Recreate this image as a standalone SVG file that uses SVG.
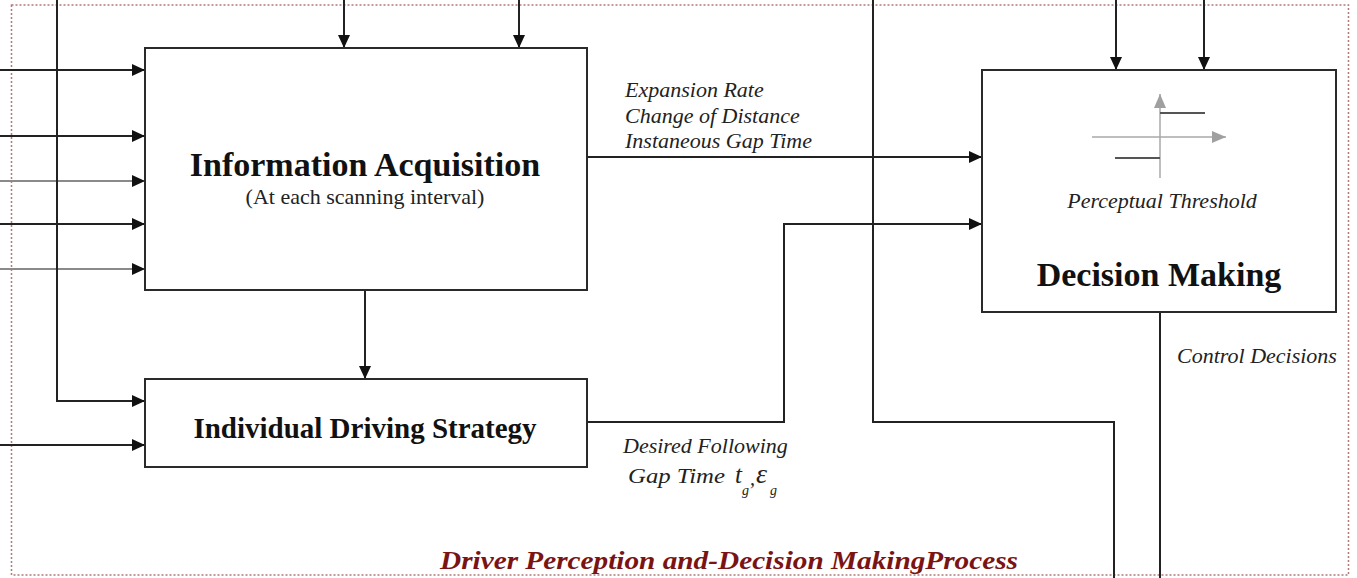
<svg xmlns="http://www.w3.org/2000/svg" width="1357" height="578" viewBox="0 0 1357 578">
<style>
.box{fill:#fff;stroke:#2a2a2a;stroke-width:2}
.ln{fill:none;stroke:#222;stroke-width:2}
.lg{fill:none;stroke:#8a8a8a;stroke-width:2}
.title{font-family:"Liberation Serif",serif;font-weight:bold;fill:#111}
.it{font-family:"Liberation Serif",serif;font-style:italic;fill:#222}
.rg{font-family:"Liberation Serif",serif;fill:#222}
</style>
<defs>
<marker id="ah" markerUnits="userSpaceOnUse" markerWidth="13" markerHeight="12" refX="13" refY="6" orient="auto">
<path d="M0,0 L13,6 L0,12 z" fill="#111"/>
</marker>
<marker id="ag" markerUnits="userSpaceOnUse" markerWidth="14" markerHeight="12" refX="14" refY="6" orient="auto">
<path d="M0,0 L14,6 L0,12 z" fill="#a0a0a0"/>
</marker>
</defs>
<rect width="1357" height="578" fill="#fff"/>
<rect x="11.5" y="5" width="1337" height="570" fill="none" stroke="#b07a7a" stroke-width="1.5" stroke-dasharray="2,2"/>

<g id="connectors">
<line class="ln" x1="0" y1="70" x2="145" y2="70" marker-end="url(#ah)"/>
<line class="ln" x1="0" y1="136" x2="145" y2="136" marker-end="url(#ah)"/>
<line class="lg" x1="0" y1="181" x2="145" y2="181" marker-end="url(#ah)"/>
<line class="ln" x1="0" y1="224" x2="145" y2="224" marker-end="url(#ah)"/>
<line class="lg" x1="0" y1="269" x2="145" y2="269" marker-end="url(#ah)"/>
<polyline class="ln" points="57,0 57,401 145,401" marker-end="url(#ah)"/>
<line class="ln" x1="0" y1="445" x2="145" y2="445" marker-end="url(#ah)"/>
<line class="ln" x1="344" y1="0" x2="344" y2="48" marker-end="url(#ah)"/>
<line class="ln" x1="519" y1="0" x2="519" y2="48" marker-end="url(#ah)"/>
<line class="ln" x1="365" y1="290" x2="365" y2="379" marker-end="url(#ah)"/>
<line class="ln" x1="587" y1="157" x2="982" y2="157" marker-end="url(#ah)"/>
<polyline class="ln" points="587,422 784,422 784,224 982,224" marker-end="url(#ah)"/>
<polyline class="ln" points="873,0 873,422 1114,422 1114,578"/>
<line class="ln" x1="1116" y1="0" x2="1116" y2="70" marker-end="url(#ah)"/>
<line class="ln" x1="1204" y1="0" x2="1204" y2="70" marker-end="url(#ah)"/>
<line class="ln" x1="1160" y1="312" x2="1160" y2="578"/>
</g>

<g id="info-acquisition">
<rect class="box" x="145" y="48" width="442" height="242"/>
<text class="title" x="365" y="176" font-size="34" text-anchor="middle">Information Acquisition</text>
<text class="rg" x="365" y="204" font-size="22" text-anchor="middle">(At each scanning interval)</text>
</g>

<g id="individual-driving-strategy">
<rect class="box" x="145" y="379" width="442" height="88"/>
<text class="title" x="365" y="438" font-size="29" text-anchor="middle">Individual Driving Strategy</text>
</g>

<g id="decision-making">
<rect class="box" x="982" y="70" width="354" height="242"/>
<line x1="1160" y1="178" x2="1160" y2="94" stroke="#a8a8a8" stroke-width="1.5" marker-end="url(#ag)"/>
<line x1="1092" y1="137" x2="1226" y2="137" stroke="#a8a8a8" stroke-width="1.5" marker-end="url(#ag)"/>
<line x1="1160" y1="113" x2="1205" y2="113" stroke="#555" stroke-width="2"/>
<line x1="1115" y1="158" x2="1160" y2="158" stroke="#555" stroke-width="2"/>
<text class="it" x="1162" y="208" font-size="22" text-anchor="middle">Perceptual Threshold</text>
<text class="title" x="1159" y="286" font-size="34" text-anchor="middle">Decision Making</text>
</g>

<g id="labels">
<text class="it" x="625" y="97" font-size="22">Expansion Rate</text>
<text class="it" x="625" y="123" font-size="22">Change of Distance</text>
<text class="it" x="625" y="148" font-size="22">Instaneous Gap Time</text>
<text class="it" x="1177" y="363" font-size="22">Control Decisions</text>
<text class="it" x="623" y="453" font-size="22">Desired Following</text>
<text class="it" x="628" y="483" font-size="22" textLength="97" lengthAdjust="spacingAndGlyphs">Gap Time</text>
<text class="it" x="735" y="483" font-size="25">t</text>
<text class="it" x="742" y="495" font-size="14">g</text>
<text class="it" x="750" y="485" font-size="20">,</text>
<text class="it" x="756" y="483" font-size="28">ε</text>
<text class="it" x="770" y="495" font-size="14">g</text>
</g>

<g id="title">
<text x="440" y="569" font-family="'Liberation Serif',serif" font-weight="bold" font-style="italic" font-size="25" fill="#7a1414" textLength="578" lengthAdjust="spacingAndGlyphs">Driver Perception and-Decision MakingProcess</text>
</g>
</svg>
